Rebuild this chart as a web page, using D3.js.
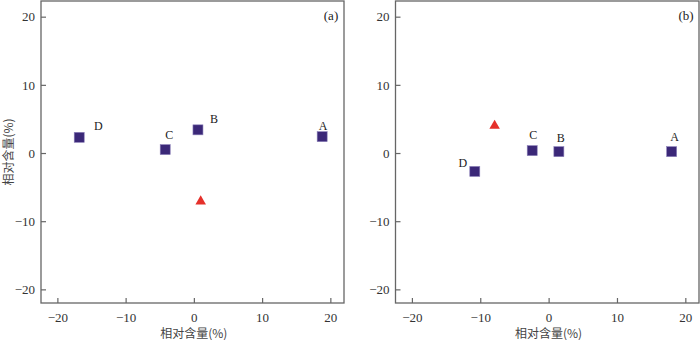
<!DOCTYPE html>
<html>
<head>
<meta charset="utf-8">
<script src="https://cdn.jsdelivr.net/npm/d3@7"></script>
<style>
    body { margin: 0; background: #fff; }
    svg { display: block; }
</style>
</head>
<body>
<svg id="chart" width="700" height="340"></svg>
<script>
// data
var sites = ['A', 'B', 'C', 'D'];
var panelA_x = [18.8, 0.6, -4.2, -16.8];
var panelA_y = [2.4, 3.4, 0.5, 2.3];
var panelA_tri = [1.0, -7.1];
var panelB_x = [18.0, 1.5, -2.4, -10.8];
var panelB_y = [0.2, 0.2, 0.35, -2.7];
var panelB_tri = [-7.9, 4.0];
var xTicks = [-20, -10, 0, 10, 20];
var yTicks = [-20, -10, 0, 10, 20];
var axisTitle = '相对含量(%)';

// label offsets in px, per panel (A, B, C, D)
var labelOffA = [[1, -11], [16, -11], [4, -15], [19, -11]];
var labelOffB = [[3, -15], [2, -14], [1, -16], [-12, -8]];

var svg = d3.select('#chart'),
    squareFill = '#3b2878',
    triFill = '#e5302a',
    frameColor = '#666',
    fontFam = '"Liberation Serif", "Times New Roman", serif';

function panel(opt) {
    var x = d3.scaleLinear().domain([-22.4, 22]).range([opt.left, opt.right]);
    var y = d3.scaleLinear().domain([-22, 22.3]).range([303, 1]);
    var g = svg.append('g');

    g.append('rect')
        .attr('x', opt.left)
        .attr('y', 1)
        .attr('width', opt.right - opt.left)
        .attr('height', 302)
        .attr('fill', 'none')
        .attr('stroke', frameColor)
        .attr('stroke-width', 1.3);

    var xAxis = g.append('g')
        .attr('transform', 'translate(0,303)')
        .call(d3.axisBottom(x).tickValues(xTicks).tickSizeInner(-5).tickSizeOuter(0).tickPadding(10));
    var yAxis = g.append('g')
        .attr('transform', 'translate(' + opt.left + ',0)')
        .call(d3.axisLeft(y).tickValues(yTicks).tickSizeInner(-5).tickSizeOuter(0).tickPadding(6));

    [xAxis, yAxis].forEach(function(a) {
        a.attr('font-family', fontFam).attr('font-size', 13);
        a.select('.domain').remove();
        a.selectAll('line').attr('stroke', frameColor).attr('stroke-width', 1.2);
        a.selectAll('text').attr('fill', '#333');
    });

    g.selectAll('rect.pt')
        .data(sites)
        .enter().append('rect')
        .attr('class', 'pt')
        .attr('x', function(d, i) { return x(opt.xs[i]) - 5; })
        .attr('y', function(d, i) { return y(opt.ys[i]) - 5; })
        .attr('width', 10)
        .attr('height', 10)
        .attr('fill', squareFill)
        .attr('stroke', '#8a7fb8')
        .attr('stroke-width', 0.6);

    g.selectAll('text.lbl')
        .data(sites)
        .enter().append('text')
        .attr('class', 'lbl')
        .attr('x', function(d, i) { return x(opt.xs[i]) + opt.off[i][0]; })
        .attr('y', function(d, i) { return y(opt.ys[i]) + opt.off[i][1] + 4; })
        .attr('text-anchor', 'middle')
        .attr('fill', '#222')
        .attr('font-family', fontFam)
        .attr('font-size', 12)
        .text(function(d) { return d; });

    g.append('path')
        .attr('d', d3.symbol(d3.symbolTriangle, 48)())
        .attr('transform', 'translate(' + x(opt.tri[0]) + ',' + y(opt.tri[1]) + ')')
        .attr('fill', triFill);

    g.append('text')
        .attr('x', opt.right - 13)
        .attr('y', 20)
        .attr('text-anchor', 'middle')
        .attr('fill', '#222')
        .attr('font-family', fontFam)
        .attr('font-size', 13)
        .text(opt.tag);

    g.append('text')
        .attr('x', x(0))
        .attr('y', 338)
        .attr('text-anchor', 'middle')
        .attr('fill', '#444')
        .attr('font-family', '"Noto Sans CJK SC", serif')
        .attr('font-size', 12)
        .text(axisTitle);

    if (opt.yTitle) {
        g.append('text')
            .attr('transform', 'translate(13,152) rotate(-90)')
            .attr('text-anchor', 'middle')
            .attr('fill', '#444')
            .attr('font-family', '"Noto Sans CJK SC", serif')
            .attr('font-size', 12)
            .text(axisTitle);
    }
}

panel({ left: 41, right: 344, xs: panelA_x, ys: panelA_y, tri: panelA_tri, off: labelOffA, tag: '(a)', yTitle: true });
panel({ left: 395.5, right: 699, xs: panelB_x, ys: panelB_y, tri: panelB_tri, off: labelOffB, tag: '(b)', yTitle: false });
</script>
</body>
</html>
